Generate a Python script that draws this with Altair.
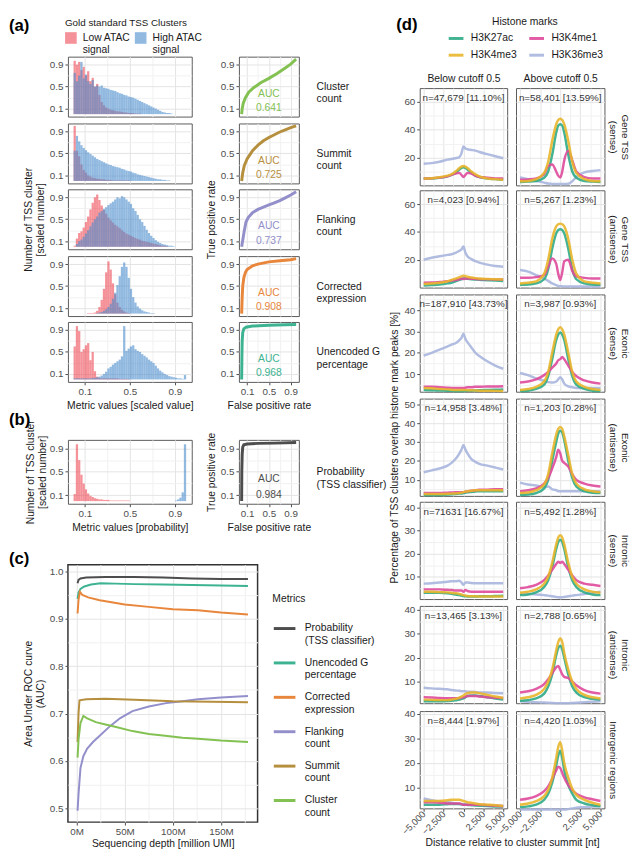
import json
import altair as alt
import pandas as pd

FONT = "Liberation Sans"
MAJOR_GRID = "#e3e3e3"
MINOR_GRID = "#f1f1f1"
PANEL_VIEW = alt.ViewBackground(stroke="#5a5a5a", strokeWidth=1, fill="white")
C_VIEW = alt.ViewBackground(stroke="#333333", strokeWidth=1.5, fill="white")
BLANK_VIEW = alt.ViewBackground(stroke="transparent", fill="transparent", strokeWidth=0)

# ---------------- (a)/(b) histograms: bins of width 0.02 on [0, 1] ----------------
BIN_STARTS = [round(i * 0.02, 2) for i in range(50)]
BIN_W = 0.02
ATAC_GROUPS = ["Low ATAC|signal", "High ATAC|signal"]
ATAC_COLORS = ["#ee4a55", "#4a8ccd"]

LOW_CLUSTER = [0.97, 0.90, 0.95, 0.80, 0.86, 0.70, 0.78, 0.60, 0.66, 0.50, 0.55, 0.35, 0.22, 0.16, 0.12, 0.10, 0.08,
               0.07, 0.06, 0.05, 0.05, 0.04, 0.03, 0.03, 0.02, 0.02, 0.02, 0.01, 0.01, 0.01]
HIGH_CLUSTER = [0.75, 0.60, 0.70, 0.95, 0.65, 0.72, 0.60, 0.55, 0.62, 0.50, 0.52, 0.50, 0.52, 0.48, 0.47, 0.46, 0.44,
                0.43, 0.42, 0.40, 0.38, 0.37, 0.35, 0.34, 0.32, 0.31, 0.30, 0.28, 0.26, 0.24, 0.22, 0.20, 0.18, 0.16,
                0.14, 0.12, 0.10, 0.08, 0.06, 0.04, 0.03, 0.02, 0.02, 0.01]
LOW_SUMMIT = [1.0, 0.55, 0.45, 0.30, 0.20, 0.15, 0.10, 0.08, 0.06, 0.05, 0.04, 0.04, 0.03, 0.03, 0.02, 0.02, 0.02,
              0.01, 0.01, 0.01, 0.01, 0.01, 0.01, 0.01, 0.01]
HIGH_SUMMIT = [0.55, 0.82, 0.72, 0.65, 0.60, 0.56, 0.52, 0.49, 0.46, 0.43, 0.40, 0.38, 0.36, 0.34, 0.32, 0.30, 0.29,
               0.27, 0.26, 0.25, 0.24, 0.22, 0.21, 0.19, 0.18, 0.17, 0.15, 0.14, 0.12, 0.11, 0.10, 0.09, 0.08, 0.07,
               0.06, 0.05, 0.04, 0.03, 0.03, 0.02, 0.02, 0.01, 0.01]
LOW_FLANK = [0.02, 0.15, 0.25, 0.28, 0.35, 0.45, 0.55, 0.68, 0.80, 0.90, 0.95, 0.85, 0.75, 0.67, 0.60, 0.53, 0.48,
             0.44, 0.40, 0.37, 0.34, 0.30, 0.27, 0.24, 0.22, 0.20, 0.18, 0.16, 0.14, 0.13, 0.11, 0.10, 0.09, 0.08,
             0.07, 0.06, 0.05, 0.04, 0.03, 0.02, 0.02, 0.01]
HIGH_FLANK = [0.0, 0.05, 0.10, 0.13, 0.18, 0.24, 0.30, 0.37, 0.44, 0.50, 0.55, 0.62, 0.65, 0.69, 0.72, 0.76, 0.79,
              0.82, 0.86, 0.90, 0.88, 0.92, 0.90, 0.86, 0.82, 0.78, 0.70, 0.65, 0.58, 0.50, 0.45, 0.38, 0.31, 0.25,
              0.20, 0.16, 0.12, 0.09, 0.07, 0.05, 0.04, 0.03, 0.02, 0.02, 0.01]
LOW_CORR = [0, 0, 0, 0, 0, 0, 0.01, 0.01, 0.01, 0.02, 0.05, 0.12, 0.25, 0.45, 0.75, 0.95, 0.80, 0.55, 0.35, 0.20,
            0.12, 0.07, 0.04, 0.02, 0.01]
HIGH_CORR = [0, 0, 0, 0, 0, 0, 0, 0, 0, 0, 0.01, 0.02, 0.03, 0.05, 0.08, 0.12, 0.18, 0.27, 0.38, 0.52, 0.68, 0.85,
             0.93, 0.85, 0.65, 0.45, 0.30, 0.20, 0.13, 0.09, 0.06, 0.04, 0.03, 0.02, 0.01, 0.01]
LOW_UNENC = [0.60, 0.97, 0.88, 0.50, 0.55, 0.62, 0.66, 0.35, 0.50, 0.15, 0.05, 0.03, 0.02, 0.02, 0.02, 0.02, 0.02,
             0.02, 0.02, 0.02, 0.01, 0.01, 0.01, 0.01, 0.01]
HIGH_UNENC = [0.02, 0.02, 0.02, 0.02, 0.02, 0.02, 0.02, 0.02, 0.03, 0.03, 0.04, 0.05, 0.07, 0.10, 0.14, 0.20, 0.23,
              0.27, 0.30, 0.33, 0.36, 0.42, 0.97, 0.52, 0.56, 0.60, 0.62, 0.55, 0.52, 0.50, 0.46, 0.43, 0.40, 0.36,
              0.33, 0.30, 0.25, 0.20, 0.16, 0.13, 0.10, 0.08, 0.06, 0.05, 0.04, 0.03, 0.02, 0.02, 0.01, 0.08]
LOW_PROB = [0.12, 0.97, 0.70, 0.45, 0.30, 0.20, 0.13, 0.09, 0.07, 0.05, 0.04, 0.03, 0.03, 0.02, 0.02, 0.02, 0.01,
            0.01, 0.01, 0.01, 0.01, 0.01, 0.01, 0.01, 0.01]
HIGH_PROB = [0.01, 0.03, 0.06, 0.15, 0.97]
HIGH_PROB_FIRST_BIN = 45

HIST_LOW = [LOW_CLUSTER, LOW_SUMMIT, LOW_FLANK, LOW_CORR, LOW_UNENC]
HIST_HIGH = [HIGH_CLUSTER, HIGH_SUMMIT, HIGH_FLANK, HIGH_CORR, HIGH_UNENC]

# ---------------- ROC curves ----------------
ROC_FPR = [
    [0, 0.01, 0.03, 0.07, 0.13, 0.22, 0.35, 0.5, 0.65, 0.8, 0.9, 1.0],
    [0, 0.02, 0.05, 0.1, 0.2, 0.3, 0.4, 0.5, 0.6, 0.7, 0.8, 0.9, 1.0],
    [0, 0.02, 0.05, 0.08, 0.12, 0.2, 0.3, 0.4, 0.5, 0.6, 0.7, 0.8, 0.9, 1.0],
    [0, 0.01, 0.02, 0.04, 0.07, 0.1, 0.2, 0.3, 0.5, 0.7, 0.9, 1.0],
    [0, 0.005, 0.01, 0.02, 0.04, 0.08, 0.2, 0.5, 0.8, 1.0],
]
ROC_TPR = [
    [0, 0.1, 0.2, 0.3, 0.4, 0.48, 0.57, 0.65, 0.74, 0.84, 0.91, 1.0],
    [0, 0.15, 0.28, 0.4, 0.55, 0.65, 0.73, 0.79, 0.84, 0.89, 0.93, 0.97, 1.0],
    [0, 0.12, 0.3, 0.45, 0.53, 0.62, 0.68, 0.72, 0.76, 0.8, 0.84, 0.89, 0.94, 1.0],
    [0, 0.3, 0.5, 0.65, 0.75, 0.8, 0.87, 0.9, 0.94, 0.96, 0.98, 1.0],
    [0, 0.4, 0.7, 0.85, 0.92, 0.95, 0.97, 0.985, 0.995, 1.0],
]
PROB_FPR = [0, 0.003, 0.01, 0.02, 0.04, 0.1, 0.3, 0.6, 1.0]
PROB_TPR = [0, 0.5, 0.8, 0.92, 0.96, 0.975, 0.985, 0.99, 1.0]
AUC_TEXT = ["0.641", "0.725", "0.737", "0.908", "0.968"]
PROB_AUC_TEXT = "0.984"
AUC_LABEL_X = [0.5, 0.5]
AUC_LABEL_Y = [0.37, 0.11]
HIST_STRIPS = [["Cluster", "count"], ["Summit", "count"], ["Flanking", "count"],
               ["Corrected", "expression"], ["Unencoded G", "percentage"]]
PROB_STRIP = ["Probability", "(TSS classifier)"]

# ---------------- (c) AUC vs sequencing depth ----------------
METRICS = ["Probability|(TSS classifier)", "Unencoded G|percentage", "Corrected|expression",
           "Flanking|count", "Summit|count", "Cluster|count"]
METRIC_COLORS = ["#4d4d4d", "#3db392", "#e8863c", "#938fca", "#b68f3e", "#84c153"]
ROC_COLORS = [METRIC_COLORS[5], METRIC_COLORS[4], METRIC_COLORS[3], METRIC_COLORS[2], METRIC_COLORS[1]]

DEPTH_PROB = [1, 2, 4, 10, 30, 60, 90, 120, 150, 178]
AUC_PROB = [0.975, 0.982, 0.985, 0.987, 0.988, 0.988, 0.987, 0.985, 0.984, 0.984]
DEPTH_UNENC = [1, 2, 4, 8, 15, 25, 40, 60, 90, 120, 150, 178]
AUC_UNENC = [0.942, 0.955, 0.963, 0.968, 0.972, 0.975, 0.974, 0.973, 0.972, 0.971, 0.970, 0.969]
DEPTH_CORR = [1, 2, 3.4, 6, 12, 24, 50, 75, 100, 126, 150, 178]
AUC_CORR = [0.911, 0.940, 0.957, 0.950, 0.945, 0.939, 0.930, 0.925, 0.920, 0.918, 0.913, 0.909]
DEPTH_FLANK = [1, 2, 4, 7, 11, 17, 24, 35, 45, 58, 75, 93, 110, 126, 150, 178]
AUC_FLANK = [0.495, 0.530, 0.585, 0.610, 0.626, 0.640, 0.653, 0.674, 0.690, 0.705, 0.715, 0.722, 0.726, 0.730,
             0.734, 0.737]
DEPTH_SUMMIT = [1, 2, 3, 10, 30, 60, 100, 140, 178]
AUC_SUMMIT = [0.640, 0.700, 0.728, 0.730, 0.731, 0.729, 0.726, 0.725, 0.724]
DEPTH_CLUSTER = [1, 2, 4, 7, 11, 20, 30, 40, 58, 75, 92, 110, 126, 150, 178]
AUC_CLUSTER = [0.607, 0.645, 0.680, 0.695, 0.690, 0.682, 0.677, 0.672, 0.663, 0.657, 0.653, 0.649, 0.647, 0.643,
               0.640]
C_DEPTHS = [DEPTH_PROB, DEPTH_UNENC, DEPTH_CORR, DEPTH_FLANK, DEPTH_SUMMIT, DEPTH_CLUSTER]
C_AUCS = [AUC_PROB, AUC_UNENC, AUC_CORR, AUC_FLANK, AUC_SUMMIT, AUC_CLUSTER]

# ---------------- (d) histone mark profiles ----------------
D_X = [-5000, -4000, -3000, -2000, -1500, -1000, -500, -250, 0, 250, 500, 1000, 1500, 2000, 3000, 4000, 5000]
HISTONE = ["H3K27ac", "H3K4me3", "H3K4me1", "H3K36me3"]
HISTONE_COLORS = ["#2fab87", "#e8b52b", "#df4a9b", "#a9b5de"]
DRAW_ORDER = ["H3K36me3", "H3K27ac", "H3K4me1", "H3K4me3"]

TSS_SENSE_BELOW = {
    "H3K27ac": [5, 5, 5.5, 6.5, 7.5, 9, 11.5, 12.5, 13, 12.5, 11.5, 9, 7, 6, 5, 4.5, 4],
    "H3K4me3": [5, 5.2, 5.8, 7, 8, 10, 12.5, 13.5, 14, 13.5, 12.5, 10, 8, 6.5, 5, 4.5, 4],
    "H3K4me1": [5, 5.2, 5.6, 6.5, 7.5, 8.5, 9, 7.5, 6, 7.5, 9, 8.5, 7, 6, 5.5, 5, 5],
    "H3K36me3": [15.5, 16, 17, 18.5, 19, 19.5, 20.5, 23, 28, 26.5, 26, 25.5, 25, 24, 22.5, 21, 19.5],
}
TSS_SENSE_ABOVE = {
    "H3K27ac": [2.5, 2.7, 3.2, 5.5, 10, 22, 38, 43, 44, 43, 38, 22, 10, 5.5, 3.2, 2.7, 2.5],
    "H3K4me3": [3, 3.2, 4.5, 9, 17, 32, 44, 47, 48, 47, 44, 32, 17, 9, 4.5, 3.2, 3],
    "H3K4me1": [4, 4.3, 5, 8, 14, 15, 10, 7, 5.7, 10, 18, 25, 18, 10, 6, 5, 5],
    "H3K36me3": [5.7, 4.5, 3.2, 2, 1.3, 1, 1, 1, 1, 1, 1, 1.2, 3, 6, 9.3, 10.3, 11],
}
TSS_ANTI_BELOW = {
    "H3K27ac": [1.5, 1.8, 2.2, 3, 3.5, 4.5, 5.5, 6, 6.5, 6.5, 6.3, 6, 5.8, 5.6, 5.3, 5, 4.8],
    "H3K4me3": [2.5, 3, 3.5, 4.5, 5.5, 6.5, 7.5, 8, 8.5, 8.2, 7.8, 7.2, 6.8, 6.5, 6.2, 6, 5.8],
    "H3K4me1": [3.5, 3.6, 4, 4.5, 5, 5.5, 6, 6.5, 6.2, 6.5, 6.5, 6.4, 6.2, 6, 6, 5.8, 5.8],
    "H3K36me3": [20, 21.5, 22.5, 23.5, 24, 25, 26.5, 27.5, 29.5, 25, 22.5, 20.5, 19, 18, 16.5, 15.5, 15],
}
TSS_ANTI_ABOVE = {
    "H3K27ac": [2, 2.2, 3, 6, 13, 28, 39, 41.5, 42, 41.5, 39, 28, 13, 6, 3, 2.2, 2],
    "H3K4me3": [3, 3.5, 4.5, 10, 20, 35, 44, 45.5, 46, 45.5, 44, 35, 20, 10, 4.5, 3.5, 3],
    "H3K4me1": [7, 7, 7.5, 9, 15, 21, 17, 10, 5.5, 11, 19, 20, 12, 8, 7, 6.5, 6.5],
    "H3K36me3": [12.6, 11.5, 9, 6.5, 4.8, 3, 1.8, 1.2, 1, 0.9, 0.8, 0.8, 0.8, 0.8, 0.8, 0.8, 0.8],
}
EXON_SENSE_BELOW = {
    "H3K27ac": [2.5, 2.4, 2.3, 2.2, 2.1, 2, 2, 2, 2, 2.1, 2.1, 2.2, 2.3, 2.4, 2.5, 2.6, 2.7],
    "H3K4me3": [3.5, 3.3, 3, 2.8, 2.6, 2.5, 2.5, 2.5, 2.5, 2.5, 2.4, 2.4, 2.3, 2.2, 2.2, 2.1, 2],
    "H3K4me1": [4, 4, 3.8, 3.6, 3.5, 3.5, 3.5, 3.5, 3.5, 3.6, 3.8, 3.8, 4, 4, 4.2, 4.2, 4.3],
    "H3K36me3": [18.7, 20, 21.5, 23, 23.8, 24.5, 26, 27, 29, 26.5, 25, 22.5, 20, 18.5, 16, 14, 12.5],
}
EXON_SENSE_ABOVE = {
    "H3K27ac": [2, 2.2, 3, 5, 9, 17, 26, 28.5, 29.5, 28.5, 26, 17, 9, 5, 3, 2.2, 2],
    "H3K4me3": [2.5, 3, 4, 6.5, 11, 20, 28.5, 31, 32, 31, 28.5, 20, 11, 6.5, 4, 3, 2.5],
    "H3K4me1": [6, 6.5, 7.5, 9.5, 11, 13, 15, 16.5, 17, 18, 17, 14, 11, 9, 7, 6, 5.5],
    "H3K36me3": [10.5, 9.5, 8, 6.8, 6.2, 6, 6.5, 7.5, 8.5, 7.5, 5.5, 4.2, 3.8, 3.5, 3.5, 3.5, 3.5],
}
EXON_ANTI_BELOW = {
    "H3K27ac": [2, 2, 2, 2.2, 2.3, 2.5, 2.7, 2.8, 3, 3.2, 3.4, 3.6, 3.8, 4, 4, 4, 4],
    "H3K4me3": [2.5, 2.5, 2.5, 2.6, 2.7, 2.8, 3, 3.2, 3.5, 3.8, 4, 4.2, 4.5, 4.5, 4.5, 4.5, 4.5],
    "H3K4me1": [3, 3, 3, 3.2, 3.3, 3.4, 3.5, 3.5, 3.5, 3.8, 4, 4.2, 4.5, 4.7, 4.8, 5, 5],
    "H3K36me3": [14, 15, 16, 17.5, 19, 21, 24, 26, 28.5, 26, 24, 21, 19.5, 18.5, 17.5, 16.5, 15.5],
}
EXON_ANTI_ABOVE = {
    "H3K27ac": [2, 2.2, 3, 5.5, 10, 20, 30, 34.5, 36, 35, 31, 20, 11, 6.5, 4, 3.2, 3],
    "H3K4me3": [3, 3.3, 4.5, 7.5, 13, 24, 34, 37, 38, 37, 33, 23, 13, 8, 5, 4, 3.5],
    "H3K4me1": [4, 4.5, 5.5, 8, 11, 16, 22, 26, 24, 20, 19, 17, 13, 10, 8, 7, 6.5],
    "H3K36me3": [8.5, 7.5, 7, 6, 6.5, 5, 4.5, 4, 4, 4, 4, 4, 4, 4, 4, 4, 4],
}
INTRON_SENSE_BELOW = {
    "H3K27ac": [3, 3, 3, 2.8, 2.6, 2.3, 2, 1.8, 1.6, 1.5, 1.4, 1.4, 1.4, 1.5, 1.5, 1.6, 1.7],
    "H3K4me3": [3.5, 3.5, 3.3, 3.2, 3, 2.8, 2.5, 2.3, 2, 1.8, 1.6, 1.5, 1.5, 1.4, 1.4, 1.4, 1.4],
    "H3K4me1": [4.5, 4.5, 4.5, 4.3, 4.2, 4, 4, 4, 3.5, 4.2, 3.8, 3.5, 3.5, 3.5, 3.5, 3.5, 3.5],
    "H3K36me3": [7, 7.2, 7.5, 7.8, 8, 8, 8.2, 7.5, 6.5, 7.5, 7.5, 7.3, 7.2, 7.2, 7.2, 7.2, 7.2],
}
INTRON_SENSE_ABOVE = {
    "H3K27ac": [2, 2.3, 3.2, 5.5, 8.5, 14, 22, 25, 26, 25, 22, 14, 8.5, 5.5, 3.2, 2.3, 2],
    "H3K4me3": [3, 3.5, 4.5, 7, 10, 16, 24, 27, 28, 27, 24, 16, 10, 7, 4.5, 3.5, 3],
    "H3K4me1": [5, 5.5, 6.5, 8.5, 10.5, 13, 15.5, 16.5, 16, 16.5, 15.5, 13, 10.5, 8.5, 7, 6.5, 6],
    "H3K36me3": [2.5, 2.5, 2.3, 2, 1.8, 1.5, 1.2, 1.1, 1, 1.1, 1.2, 1.5, 1.8, 2, 2.5, 3, 3.5],
}
INTRON_ANTI_BELOW = {
    "H3K27ac": [1.8, 1.8, 1.8, 1.9, 2, 2.2, 2.5, 2.8, 3, 3.5, 4, 4.2, 4.2, 4, 3.5, 3, 2.5],
    "H3K4me3": [2.5, 2.4, 2.3, 2.3, 2.5, 2.8, 3.3, 3.8, 4.2, 4.8, 5.2, 5.5, 5.5, 5.2, 4.5, 3.8, 3.2],
    "H3K4me1": [3.5, 3.4, 3.2, 3.1, 3.1, 3.1, 3.2, 3.3, 3.5, 3.7, 4, 4, 4, 3.8, 3.5, 3.3, 3.2],
    "H3K36me3": [7.5, 7.2, 7, 6.8, 6.5, 6.3, 6.2, 6, 6, 6, 5.8, 5.8, 5.7, 5.5, 5.5, 5.3, 5.2],
}
INTRON_ANTI_ABOVE = {
    "H3K27ac": [2, 2.3, 3, 5, 8, 13, 21, 24, 25, 23.5, 20, 13, 8, 5.5, 3.5, 2.8, 2.5],
    "H3K4me3": [3, 3.5, 4.5, 7, 10, 15, 23, 26.5, 28, 26.5, 22, 15, 10, 7, 4.5, 3.5, 3],
    "H3K4me1": [5.5, 6, 7, 9, 11, 13.5, 16, 16.5, 15, 13, 12, 11.5, 10, 8.5, 6.5, 5.5, 5],
    "H3K36me3": [1.8, 1.6, 1.4, 1.3, 1.2, 1.1, 1, 1, 1, 1, 1, 1, 1.1, 1.2, 1.4, 1.6, 1.8],
}
INTERGENIC_BELOW = {
    "H3K27ac": [3, 3, 3, 3.2, 3.3, 3.3, 3.3, 3.2, 3, 3, 2.9, 2.8, 2.7, 2.6, 2.5, 2.3, 2.2],
    "H3K4me3": [4.5, 4.5, 4.5, 4.8, 5, 5, 5, 4.8, 4.5, 4.3, 4, 3.8, 3.5, 3.2, 3, 2.8, 2.5],
    "H3K4me1": [4, 4, 3.8, 3.5, 3.5, 3.5, 3.5, 3.3, 3, 3, 3, 3, 3, 3, 2.8, 2.6, 2.4],
    "H3K36me3": [5.5, 4.8, 4.3, 4, 3.8, 3.5, 3.3, 3.2, 3.1, 3, 3, 3, 2.9, 2.8, 2.7, 2.6, 2.5],
}
INTERGENIC_ABOVE = {
    "H3K27ac": [2, 2.3, 3, 5, 7.5, 12, 19, 23, 25, 22, 17, 11, 7.5, 5, 3.5, 2.8, 2.3],
    "H3K4me3": [3, 3.5, 4.5, 6.5, 9, 14, 22, 26.5, 28.5, 25, 20, 14, 9.5, 7, 5, 3.8, 3],
    "H3K4me1": [5, 5.5, 6.5, 8.5, 10.5, 13.5, 17, 18.5, 18, 16, 14, 11, 9, 7.5, 6, 5.2, 4.5],
    "H3K36me3": [1, 1, 1, 1, 1, 1, 1, 1, 1, 1, 1, 1.2, 1.5, 1.8, 2, 2.2, 2.5],
}
D_PANELS = [[TSS_SENSE_BELOW, TSS_SENSE_ABOVE], [TSS_ANTI_BELOW, TSS_ANTI_ABOVE],
            [EXON_SENSE_BELOW, EXON_SENSE_ABOVE], [EXON_ANTI_BELOW, EXON_ANTI_ABOVE],
            [INTRON_SENSE_BELOW, INTRON_SENSE_ABOVE], [INTRON_ANTI_BELOW, INTRON_ANTI_ABOVE],
            [INTERGENIC_BELOW, INTERGENIC_ABOVE]]
N_LABELS = [["n=47,679 [11.10%]", "n=58,401 [13.59%]"], ["n=4,023 [0.94%]", "n=5,267 [1.23%]"],
            ["n=187,910 [43.73%]", "n=3,987 [0.93%]"], ["n=14,958 [3.48%]", "n=1,203 [0.28%]"],
            ["n=71631 [16.67%]", "n=5,492 [1.28%]"], ["n=13,465 [3.13%]", "n=2,788 [0.65%]"],
            ["n=8,444 [1.97%]", "n=4,420 [1.03%]"]]
D_STRIPS = [["Gene TSS", "(sense)"], ["Gene TSS", "(antisense)"], ["Exonic", "(sense)"],
            ["Exonic", "(antisense)"], ["Intronic", "(sense)"], ["Intronic", "(antisense)"],
            "Intergenic regions"]
D_COL_TITLES = ["Below cutoff 0.5", "Above cutoff 0.5"]
D_Y_DOMAINS = [[0, 70], [0, 70], [1.7, 47.4], [1.5, 53], [0.3, 42.5], [1, 41.6], [1.5, 41.2]]
D_Y_MAJOR = [[20, 40, 60], [20, 40, 60], [10, 20, 30, 40], [10, 20, 30, 40, 50],
             [10, 20, 30, 40], [10, 20, 30, 40], [10, 20, 30, 40]]
D_Y_MINOR = [[10, 30, 50], [10, 30, 50], [5, 15, 25, 35, 45], [5, 15, 25, 35, 45],
             [5, 15, 25, 35], [5, 15, 25, 35], [5, 15, 25, 35]]
D_X_MAJOR = [-5000, -2500, 0, 2500, 5000]
D_X_MINOR = [-3750, -1250, 1250, 3750]


# ---------------- helpers ----------------
def grid_axis(major, minor, labels=True, ticks=True, title=None, label_expr="datum.label", **kw):
    test = "indexof(%s, datum.value) >= 0" % json.dumps(minor)
    args = dict(values=sorted(major + minor), grid=True, domain=False, labels=labels, ticks=ticks, title=title,
                gridColor={"condition": {"test": test, "value": MINOR_GRID}, "value": MAJOR_GRID},
                labelOverlap=False, labelFlush=False)
    if ticks:
        args["tickOpacity"] = {"condition": {"test": test, "value": 0}, "value": 1}
    if labels:
        args["labelExpr"] = "%s ? '' : %s" % (test, label_expr)
    args.update(kw)
    return alt.Axis(**args)


SPACER_DF = pd.DataFrame({"v": [0.0]})


def spacer(w, h):
    return alt.Chart(SPACER_DF).mark_point(size=0, opacity=0).encode(
        x=alt.X("v:Q", axis=None), y=alt.Y("v:Q", axis=None)
    ).properties(width=w, height=h, view=BLANK_VIEW)


def panel_title(text, dx, offset):
    return alt.TitleParams(text=text, anchor="start", frame="group", orient="top", dx=dx, offset=offset,
                           fontSize=17, fontWeight="bold", font=FONT, color="#000000")


def grid(rows, ncols):
    return alt.concat(*[c for row in rows for c in row], columns=ncols, spacing=0, bounds="flush").resolve_scale(
        color="independent")


FMT1 = "format(datum.value, '.1f')"
A_MAJ, A_MIN = [0.1, 0.5, 0.9], [0.3, 0.7]
HX_SCALE = alt.Scale(domain=[-0.05, 1.05], nice=False, zero=False)
HY_SCALE = alt.Scale(domain=[-0.045, 1.045], nice=False, zero=False)


def hist_chart(low, high, high_start, height, x_axis, y_axis, legend, title):
    rows = []
    for grp, vals, st in ((ATAC_GROUPS[0], low, 0), (ATAC_GROUPS[1], high, high_start)):
        for i, v in enumerate(vals):
            if v > 0:
                b = BIN_STARTS[st + i]
                rows.append({"grp": grp, "x0": b, "x1": b + BIN_W, "v": v, "z": 0.0})
    ch = alt.Chart(pd.DataFrame(rows)).mark_rect(opacity=0.6).encode(
        x=alt.X("x0:Q", scale=HX_SCALE, axis=x_axis),
        x2="x1:Q",
        y=alt.Y("v:Q", scale=HY_SCALE, axis=y_axis),
        y2="z:Q",
        color=alt.Color("grp:N", scale=alt.Scale(domain=ATAC_GROUPS, range=ATAC_COLORS), legend=legend),
    ).properties(width=126, height=height, view=PANEL_VIEW)
    if title is not None:
        ch = ch.properties(title=title)
    return ch


def roc_chart(fpr, tpr, color, auc_txt, strip, height, x_axis, y_axis):
    line = alt.Chart(pd.DataFrame({"fpr": fpr, "tpr": tpr})).mark_line(color=color, strokeWidth=3).encode(
        x=alt.X("fpr:Q", scale=HX_SCALE, axis=x_axis),
        y=alt.Y("tpr:Q", scale=HY_SCALE, axis=y_axis),
    )
    txt = alt.Chart(pd.DataFrame({"fpr": AUC_LABEL_X, "tpr": AUC_LABEL_Y, "t": ["AUC", auc_txt]})).mark_text(
        color=color, fontSize=10.5, font=FONT
    ).encode(
        x=alt.X("fpr:Q", scale=HX_SCALE, axis=x_axis),
        y=alt.Y("tpr:Q", scale=HY_SCALE,
                axis=alt.Axis(orient="right", title=strip, labels=False, ticks=False, domain=False, grid=False,
                              titleAngle=0, titleAlign="left", titleBaseline="middle", titlePadding=5,
                              titleFontSize=10.5, titleColor="#1a1a1a")),
        text="t:N",
    )
    return alt.layer(line, txt).resolve_scale(y="independent").properties(
        width=61, height=height, view=PANEL_VIEW)


# ---------------- (a) ----------------
H, R = [], []
for i in range(5):
    last = i == 4
    hx = grid_axis(A_MAJ, A_MIN, labels=last, ticks=last,
                   title="Metric values [scaled value]" if last else None, label_expr=FMT1)
    hy = grid_axis(A_MAJ, A_MIN, label_expr=FMT1,
                   title=["Number of TSS cluster", "[scaled number]"] if i == 2 else None)
    legend = None
    title = None
    if i == 0:
        legend = alt.Legend(orient="none", legendX=-3, legendY=-39, direction="horizontal",
                            title="Gold standard TSS Clusters", labelExpr="split(datum.label, '|')",
                            symbolType="square", symbolSize=140, symbolStrokeWidth=0, symbolOpacity=0.6,
                            labelFontSize=10.5, titleFontSize=10, titlePadding=4, columnPadding=4,
                            labelOffset=6, padding=0)
        title = panel_title("(a)", -60, -17)
    H.append(hist_chart(HIST_LOW[i], HIST_HIGH[i], 0, 61, hx, hy, legend, title))
    rx = grid_axis(A_MAJ, A_MIN, labels=last, ticks=last,
                   title="False positive rate" if last else None, label_expr=FMT1)
    ry = grid_axis(A_MAJ, A_MIN, label_expr=FMT1, title="True positive rate" if i == 2 else None)
    R.append(roc_chart(ROC_FPR[i], ROC_TPR[i], ROC_COLORS[i], AUC_TEXT[i], HIST_STRIPS[i], 61, rx, ry))

# ---------------- (b) ----------------
HB = hist_chart(LOW_PROB, HIGH_PROB, HIGH_PROB_FIRST_BIN, 65,
                grid_axis(A_MAJ, A_MIN, title="Metric values [probability]", label_expr=FMT1),
                grid_axis(A_MAJ, A_MIN, label_expr=FMT1, title=["Number of TSS cluster", "[scaled number]"],
                          titlePadding=2),
                None, panel_title("(b)", -60, -9))
RB = roc_chart(PROB_FPR, PROB_TPR, METRIC_COLORS[0], PROB_AUC_TEXT, PROB_STRIP, 65,
               grid_axis(A_MAJ, A_MIN, title="False positive rate", label_expr=FMT1),
               grid_axis(A_MAJ, A_MIN, label_expr=FMT1, title="True positive rate"))

# ---------------- (c) ----------------
c_rows = []
for m, ds, aucs in zip(METRICS, C_DEPTHS, C_AUCS):
    for d, a in zip(ds, aucs):
        c_rows.append({"metric": m, "depth": d, "auc": a})
C = alt.Chart(pd.DataFrame(c_rows)).mark_line(strokeWidth=2).encode(
    x=alt.X("depth:Q", scale=alt.Scale(domain=[-9, 188], nice=False, zero=False),
            axis=grid_axis([0, 50, 100, 150], [25, 75, 125, 175], label_expr="datum.value + 'M'",
                           title="Sequencing depth [million UMI]", titlePadding=2)),
    y=alt.Y("auc:Q", scale=alt.Scale(domain=[0.471, 1.014], nice=False, zero=False),
            axis=grid_axis([0.5, 0.6, 0.7, 0.8, 0.9, 1.0], [0.55, 0.65, 0.75, 0.85, 0.95], label_expr=FMT1,
                           title=["Area Under ROC curve", "(AUC)"])),
    color=alt.Color("metric:N", scale=alt.Scale(domain=METRICS, range=METRIC_COLORS),
                    legend=alt.Legend(orient="none", legendX=208, legendY=30, direction="vertical",
                                      title="\u00a0" * 10 + "Metrics", labelExpr="split(datum.label, '|')",
                                      symbolType="stroke", symbolSize=484, symbolStrokeWidth=3,
                                      labelFontSize=10.5, titleFontSize=10.5, titlePadding=12, rowPadding=4,
                                      labelOffset=8, padding=0)),
).properties(width=193, height=262, view=C_VIEW, title=panel_title("(c)", -60, -3))

# ---------------- (d) ----------------
D_W = [89, 90]
D_H = 99
D_GAPS = [5, 7, 7, 6, 7, 8]
D = []
for r in range(7):
    row = []
    for c in range(2):
        panel = D_PANELS[r][c]
        recs = [{"x": x, "v": v, "mark": m} for m in DRAW_ORDER for x, v in zip(D_X, panel[m])]
        if r == 0:
            xa = grid_axis(D_X_MAJOR, D_X_MINOR, labels=False, ticks=False, title=D_COL_TITLES[c], orient="top",
                           titlePadding=5, titleFontSize=10.5)
        elif r == 6:
            extra = {"title": "Distance relative to cluster summit [nt]", "titleX": 94,
                     "titlePadding": 2} if c == 0 else {}
            xa = grid_axis(D_X_MAJOR, D_X_MINOR, label_expr="format(datum.value, ',')", labelAngle=-45,
                           labelAlign="right", labelBaseline="middle", labelPadding=1, labelFontSize=9.5,
                           **extra)
        else:
            xa = grid_axis(D_X_MAJOR, D_X_MINOR, labels=False, ticks=False)
        if c == 0:
            ya = grid_axis(D_Y_MAJOR[r], D_Y_MINOR[r], label_expr="datum.value",
                           title="Percentage of TSS clusters overlap histone mark peaks [%]" if r == 3 else None)
        else:
            ya = grid_axis(D_Y_MAJOR[r], D_Y_MINOR[r], labels=False, ticks=False, orient="right",
                           title=D_STRIPS[r], titleAngle=90, titlePadding=3, titleFontSize=10)
        legend = None
        if r == 0 and c == 0:
            legend = alt.Legend(orient="none", legendX=28, legendY=-72, columns=2, title="Histone marks",
                                titleAnchor="middle", symbolType="stroke", symbolSize=225, symbolStrokeWidth=3,
                                labelFontSize=10.5, titleFontSize=10.5, columnPadding=6, rowPadding=2,
                                labelOffset=6, titlePadding=2, padding=0)
        lines = alt.Chart(pd.DataFrame(recs)).mark_line(strokeWidth=2.5, opacity=0.9, interpolate="monotone").encode(
            x=alt.X("x:Q", scale=alt.Scale(domain=[-5500, 5500], nice=False, zero=False), axis=xa),
            y=alt.Y("v:Q", scale=alt.Scale(domain=D_Y_DOMAINS[r], nice=False, zero=False), axis=ya),
            color=alt.Color("mark:N", scale=alt.Scale(domain=HISTONE, range=HISTONE_COLORS), legend=legend),
        )
        txt = alt.Chart(pd.DataFrame({"t": [N_LABELS[r][c]]})).mark_text(
            fontSize=10, color="#333333", font=FONT
        ).encode(text="t:N", x=alt.value(D_W[c] / 2), y=alt.value(10))
        ch = alt.layer(lines, txt).properties(width=D_W[c], height=D_H, view=PANEL_VIEW)
        if r == 0 and c == 0:
            ch = ch.properties(title=panel_title("(d)", -24, -17))
        row.append(ch)
    D.append(row)

# ---------------- left block: (a)+(b) grid, then (c) ----------------
GAP_RIGHT = 80  # reserves room right of the ROC panels for the strip labels
A_GAPS = [7, 6, 7, 6]


def blank_row(h):
    return [spacer(126, h), spacer(48, 1), spacer(61, 1), spacer(GAP_RIGHT, 1)]


ab_rows = [blank_row(38)]
for i in range(5):
    if i > 0:
        ab_rows.append(blank_row(A_GAPS[i - 1]))
    ab_rows.append([H[i], spacer(48, 1), R[i], spacer(GAP_RIGHT, 1)])
ab_rows.append(blank_row(59))
ab_rows.append([HB, spacer(48, 1), RB, spacer(GAP_RIGHT, 1)])
ab_rows.append(blank_row(42))
ab_block = grid(ab_rows, 4)
c_block = grid([[spacer(193, 20)], [C]], 1)
left = alt.vconcat(ab_block, c_block, spacing=0, bounds="full").resolve_scale(color="independent")

# ---------------- right block: (d) ----------------
right_rows = [[spacer(33, 70), spacer(D_W[0], 1), spacer(9, 1), spacer(D_W[1], 1)]]
for r in range(7):
    if r > 0:
        right_rows.append([spacer(33, D_GAPS[r - 1]), spacer(D_W[0], 1), spacer(9, 1), spacer(D_W[1], 1)])
    right_rows.append([spacer(33, 1), D[r][0], spacer(9, 1), D[r][1]])
right = grid(right_rows, 4)

chart = alt.hconcat(left, right, spacing=0, bounds="full").resolve_scale(
    color="independent"
).properties(padding=0).configure_axis(
    labelFont=FONT, titleFont=FONT, labelFontSize=10, titleFontSize=10.5, labelColor="#4d4d4d",
    titleColor="#1a1a1a", tickColor="#4d4d4d", tickSize=3, titleFontWeight="normal", labelPadding=2,
    titlePadding=4, gridWidth=1
).configure_legend(
    labelFont=FONT, titleFont=FONT, labelColor="#1a1a1a", titleColor="#1a1a1a", titleFontWeight="normal"
).configure_text(font=FONT).configure_title(font=FONT)

chart.save("out.html", embed_options={"renderer": "svg", "actions": False})
